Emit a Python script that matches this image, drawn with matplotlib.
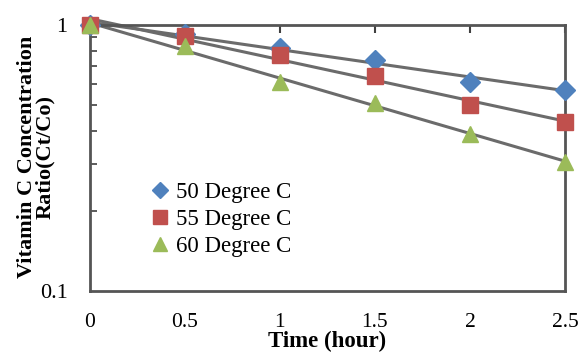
"""Vitamin C concentration ratio versus time at three temperatures, log scale."""

import matplotlib

matplotlib.use("Agg")
import matplotlib.pyplot as plt
import numpy as np
from matplotlib.ticker import FixedLocator, LogLocator, NullFormatter

time_hours = [0, 0.5, 1, 1.5, 2, 2.5]
ratio_50c = [1.0, 0.92, 0.82, 0.74, 0.61, 0.57]
ratio_55c = [1.0, 0.91, 0.77, 0.64, 0.50, 0.43]
ratio_60c = [1.0, 0.83, 0.61, 0.51, 0.39, 0.305]
series_labels = ["50 Degree C", "55 Degree C", "60 Degree C"]
x_ticks = [0, 0.5, 1, 1.5, 2, 2.5]
x_tick_labels = ["0", "0.5", "1", "1.5", "2", "2.5"]

plt.rcParams["font.family"] = ["Liberation Serif", "DejaVu Serif"]

fig = plt.figure(figsize=(5.79, 3.55), dpi=100)
ax = fig.add_axes([0.155, 0.180, 0.821, 0.750])

styles = [
    ("D", "#4F81BD", 10),
    ("s", "#C0504D", 12),
    ("^", "#9BBB59", 12),
]
x = np.asarray(time_hours, dtype=float)
x_line = np.array([0.0, 2.5])

# exponential trendlines (fit of log(ratio) vs time), drawn under the markers
for values in (ratio_50c, ratio_55c, ratio_60c):
    slope, intercept = np.polyfit(x, np.log(values), 1)
    ax.plot(x_line, np.exp(intercept + slope * x_line), color="#6b6b6b",
            linewidth=2.2, zorder=2, clip_on=False)

for values, label, (marker, color, size) in zip(
    (ratio_50c, ratio_55c, ratio_60c), series_labels, styles
):
    ax.plot(x, values, linestyle="none", marker=marker, color=color,
            markersize=size, label=label, zorder=3, clip_on=False)

ax.set_yscale("log")
ax.set_ylim(0.1, 1)
ax.set_xlim(0, 2.5)

ax.yaxis.set_major_locator(FixedLocator([0.1, 1]))
ax.set_yticklabels(["0.1", "1"])
ax.yaxis.set_minor_locator(LogLocator(base=10, subs=np.arange(2, 10)))
ax.yaxis.set_minor_formatter(NullFormatter())
ax.tick_params(axis="y", which="major", length=0, pad=16, labelsize=16)
ax.tick_params(axis="y", which="minor", direction="in", length=5, width=1.2,
               color="#404040")

ax.set_xticks(x_ticks)
ax.set_xticklabels(x_tick_labels)
ax.tick_params(axis="x", which="major", bottom=False, top=True, labelbottom=True,
               direction="in", length=6, width=1.5, color="#404040",
               pad=16, labelsize=15.5)

for spine in ax.spines.values():
    spine.set_color("#555555")
    spine.set_linewidth(2.0)

ax.set_xlabel("Time (hour)", fontsize=16.5, fontweight="bold", labelpad=-1)
ax.set_ylabel("Vitamin C Concentration\nRatio(Ct/Co)", fontsize=16,
              fontweight="bold", linespacing=0.88)
ax.yaxis.set_label_coords(-0.072, 0.505)

ax.legend(loc="upper left", bbox_to_anchor=(0.10, 0.47), frameon=False,
          fontsize=16.5, handlelength=0.6, handletextpad=0.4, borderpad=0.2,
          labelspacing=0.26, markerscale=0.8)

fig.savefig("out.png", dpi=100)
